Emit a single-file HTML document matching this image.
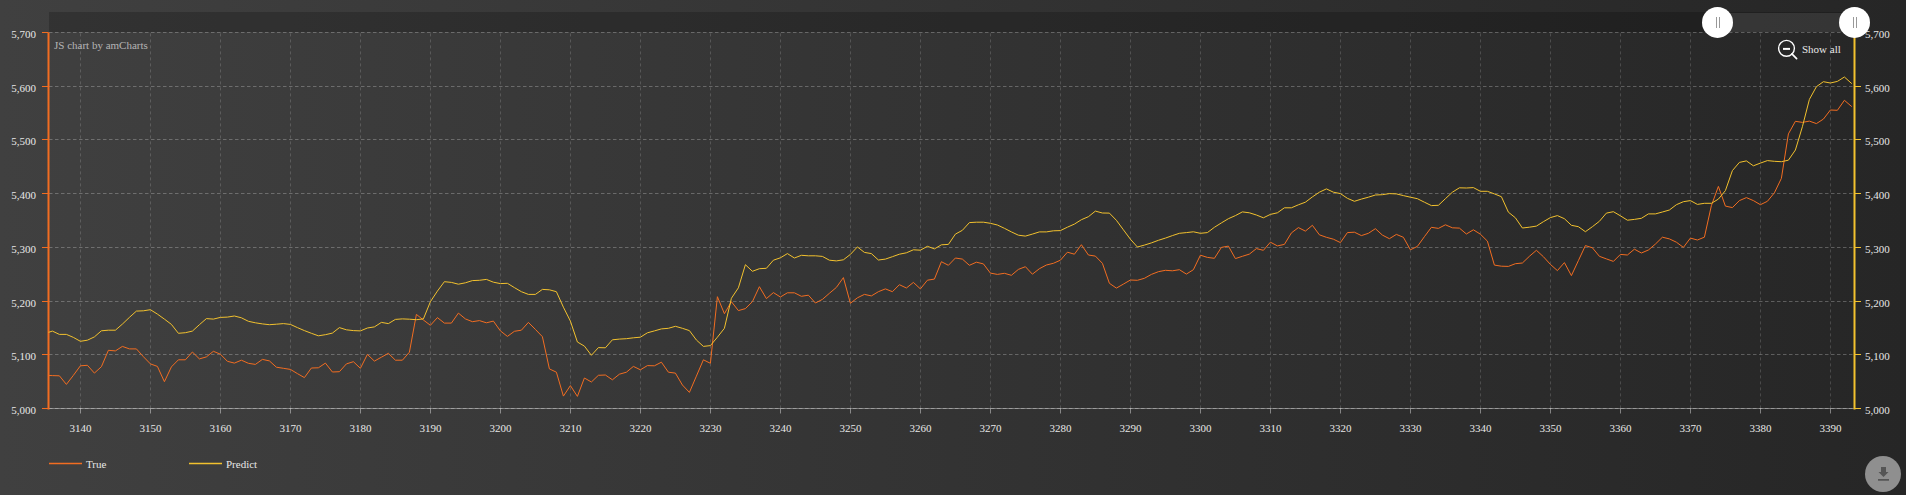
<!DOCTYPE html>
<html><head><meta charset="utf-8"><style>
html,body{margin:0;padding:0;width:1906px;height:495px;overflow:hidden;background:#2f2f2f}
svg{display:block}
text{font-family:"Liberation Serif",serif;font-size:11px;fill:#e7e7e7}
</style></head><body>
<svg width="1906" height="495" viewBox="0 0 1906 495">
<defs>
<linearGradient id="bg" x1="0" y1="0" x2="1" y2="0">
<stop offset="0" stop-color="#404040"/><stop offset="1" stop-color="#262626"/>
</linearGradient>
<clipPath id="plot"><rect x="48.5" y="32" width="1803.5" height="377"/></clipPath>
</defs>
<rect x="0" y="0" width="1906" height="495" fill="url(#bg)"/>

<rect x="49" y="12" width="1805.5" height="20" fill="#000" fill-opacity="0.2"/>
<rect x="1717.5" y="13" width="137" height="19" fill="#fff" fill-opacity="0.1"/>
<path d="M49 408.5H1854.5 M49 354.5H1854.5 M49 301.5H1854.5 M49 247.5H1854.5 M49 193.5H1854.5 M49 139.5H1854.5 M49 86.5H1854.5 M49 32.5H1854.5" stroke="#fff" stroke-opacity="0.25" stroke-width="1" stroke-dasharray="3.5 2.5" fill="none"/>
<path d="M80.5 408.4V32.5 M150.5 408.4V32.5 M220.5 408.4V32.5 M290.5 408.4V32.5 M360.5 408.4V32.5 M430.5 408.4V32.5 M500.5 408.4V32.5 M570.5 408.4V32.5 M640.5 408.4V32.5 M710.5 408.4V32.5 M780.5 408.4V32.5 M850.5 408.4V32.5 M920.5 408.4V32.5 M990.5 408.4V32.5 M1060.5 408.4V32.5 M1130.5 408.4V32.5 M1200.5 408.4V32.5 M1270.5 408.4V32.5 M1340.5 408.4V32.5 M1410.5 408.4V32.5 M1480.5 408.4V32.5 M1550.5 408.4V32.5 M1620.5 408.4V32.5 M1690.5 408.4V32.5 M1760.5 408.4V32.5 M1830.5 408.4V32.5" stroke="#fff" stroke-opacity="0.16" stroke-width="1" stroke-dasharray="3 3" fill="none"/>
<path d="M48.5 408.5H1854.5" stroke="#fff" stroke-opacity="0.36" stroke-width="1"/>
<path d="M80.5 408.5V413.5 M150.5 408.5V413.5 M220.5 408.5V413.5 M290.5 408.5V413.5 M360.5 408.5V413.5 M430.5 408.5V413.5 M500.5 408.5V413.5 M570.5 408.5V413.5 M640.5 408.5V413.5 M710.5 408.5V413.5 M780.5 408.5V413.5 M850.5 408.5V413.5 M920.5 408.5V413.5 M990.5 408.5V413.5 M1060.5 408.5V413.5 M1130.5 408.5V413.5 M1200.5 408.5V413.5 M1270.5 408.5V413.5 M1340.5 408.5V413.5 M1410.5 408.5V413.5 M1480.5 408.5V413.5 M1550.5 408.5V413.5 M1620.5 408.5V413.5 M1690.5 408.5V413.5 M1760.5 408.5V413.5 M1830.5 408.5V413.5" stroke="#fff" stroke-opacity="0.42" stroke-width="1"/>
<text x="80.4" y="432" text-anchor="middle">3140</text>
<text x="150.4" y="432" text-anchor="middle">3150</text>
<text x="220.4" y="432" text-anchor="middle">3160</text>
<text x="290.4" y="432" text-anchor="middle">3170</text>
<text x="360.4" y="432" text-anchor="middle">3180</text>
<text x="430.4" y="432" text-anchor="middle">3190</text>
<text x="500.4" y="432" text-anchor="middle">3200</text>
<text x="570.4" y="432" text-anchor="middle">3210</text>
<text x="640.4" y="432" text-anchor="middle">3220</text>
<text x="710.4" y="432" text-anchor="middle">3230</text>
<text x="780.4" y="432" text-anchor="middle">3240</text>
<text x="850.4" y="432" text-anchor="middle">3250</text>
<text x="920.4" y="432" text-anchor="middle">3260</text>
<text x="990.4" y="432" text-anchor="middle">3270</text>
<text x="1060.4" y="432" text-anchor="middle">3280</text>
<text x="1130.4" y="432" text-anchor="middle">3290</text>
<text x="1200.4" y="432" text-anchor="middle">3300</text>
<text x="1270.4" y="432" text-anchor="middle">3310</text>
<text x="1340.4" y="432" text-anchor="middle">3320</text>
<text x="1410.4" y="432" text-anchor="middle">3330</text>
<text x="1480.4" y="432" text-anchor="middle">3340</text>
<text x="1550.4" y="432" text-anchor="middle">3350</text>
<text x="1620.4" y="432" text-anchor="middle">3360</text>
<text x="1690.4" y="432" text-anchor="middle">3370</text>
<text x="1760.4" y="432" text-anchor="middle">3380</text>
<text x="1830.4" y="432" text-anchor="middle">3390</text>
<path d="M48.5 32.4V409.4" stroke="#f26d21" stroke-width="2"/>
<path d="M42 408.5H48.5 M42 354.5H48.5 M42 301.5H48.5 M42 247.5H48.5 M42 193.5H48.5 M42 139.5H48.5 M42 86.5H48.5 M42 32.5H48.5" stroke="#f26d21" stroke-width="1"/>
<path d="M1854.5 32.4V409.4" stroke="#f2c12e" stroke-width="2"/>
<path d="M1854.5 408.5H1861 M1854.5 354.5H1861 M1854.5 301.5H1861 M1854.5 247.5H1861 M1854.5 193.5H1861 M1854.5 139.5H1861 M1854.5 86.5H1861 M1854.5 32.5H1861" stroke="#f2c12e" stroke-width="1"/>
<text x="36" y="414.0" text-anchor="end">5,000</text>
<text x="1865" y="414.0">5,000</text>
<text x="36" y="360.0" text-anchor="end">5,100</text>
<text x="1865" y="360.0">5,100</text>
<text x="36" y="307.0" text-anchor="end">5,200</text>
<text x="1865" y="307.0">5,200</text>
<text x="36" y="253.0" text-anchor="end">5,300</text>
<text x="1865" y="253.0">5,300</text>
<text x="36" y="199.0" text-anchor="end">5,400</text>
<text x="1865" y="199.0">5,400</text>
<text x="36" y="145.0" text-anchor="end">5,500</text>
<text x="1865" y="145.0">5,500</text>
<text x="36" y="92.0" text-anchor="end">5,600</text>
<text x="1865" y="92.0">5,600</text>
<text x="36" y="38.0" text-anchor="end">5,700</text>
<text x="1865" y="38.0">5,700</text>
<g clip-path="url(#plot)"><path d="M38.4 375.1 L45.4 375.3 L52.4 375.6 L59.4 375.8 L66.4 384.4 L73.4 375.3 L80.4 365.8 L87.4 365.3 L94.4 373.1 L101.4 366.7 L108.4 350.3 L115.4 350.9 L122.4 346.4 L129.4 348.9 L136.4 348.9 L143.4 356.7 L150.4 363.9 L157.4 366.4 L164.4 381.7 L171.4 366.9 L178.4 359.8 L185.4 359.8 L192.4 352.0 L199.4 358.9 L206.4 356.9 L213.4 351.3 L220.4 354.2 L227.4 361.3 L234.4 363.1 L241.4 360.2 L248.4 363.3 L255.4 364.4 L262.4 359.4 L269.4 360.9 L276.4 367.2 L283.4 368.3 L290.4 369.4 L297.4 373.6 L304.4 377.6 L311.4 368.0 L318.4 367.8 L325.4 363.1 L332.4 372.0 L339.4 371.7 L346.4 363.9 L353.4 361.7 L360.4 368.3 L367.4 354.4 L374.4 361.1 L381.4 357.2 L388.4 353.3 L395.4 360.2 L402.4 360.2 L409.4 352.2 L416.4 314.4 L423.4 320.0 L430.4 325.3 L437.4 317.6 L444.4 323.1 L451.4 323.1 L458.4 313.1 L465.4 318.9 L472.4 321.7 L479.4 320.6 L486.4 322.8 L493.4 321.1 L500.4 330.9 L507.4 336.4 L514.4 331.3 L521.4 330.2 L528.4 322.4 L535.4 329.4 L542.4 336.7 L549.4 368.9 L556.4 372.2 L563.4 396.1 L570.4 385.6 L577.4 396.4 L584.4 378.0 L591.4 382.0 L598.4 375.3 L605.4 375.0 L612.4 379.8 L619.4 374.2 L626.4 372.2 L633.4 366.4 L640.4 369.8 L647.4 365.6 L654.4 365.8 L661.4 362.2 L668.4 372.2 L675.4 373.1 L682.4 385.0 L689.4 392.4 L696.4 376.1 L703.4 359.8 L710.4 363.3 L717.4 296.7 L724.4 313.7 L731.4 301.7 L738.4 310.6 L745.4 308.6 L752.4 301.7 L759.4 286.7 L766.4 298.6 L773.4 292.6 L780.4 297.0 L787.4 292.8 L794.4 292.8 L801.4 296.3 L808.4 295.2 L815.4 303.0 L822.4 299.4 L829.4 293.3 L836.4 287.4 L843.4 277.6 L850.4 303.3 L857.4 297.8 L864.4 294.4 L871.4 295.9 L878.4 291.7 L885.4 288.9 L892.4 291.7 L899.4 284.7 L906.4 288.0 L913.4 282.4 L920.4 288.9 L927.4 280.2 L934.4 279.1 L941.4 261.7 L948.4 265.3 L955.4 258.0 L962.4 259.1 L969.4 265.3 L976.4 262.2 L983.4 263.9 L990.4 273.1 L997.4 274.4 L1004.4 273.3 L1011.4 275.3 L1018.4 269.4 L1025.4 266.7 L1032.4 274.2 L1039.4 268.7 L1046.4 265.0 L1053.4 263.3 L1060.4 260.2 L1067.4 252.2 L1074.4 254.2 L1081.4 244.7 L1088.4 255.0 L1095.4 256.1 L1102.4 263.3 L1109.4 283.3 L1116.4 288.1 L1123.4 284.1 L1130.4 280.0 L1137.4 280.3 L1144.4 278.3 L1151.4 274.4 L1158.4 271.7 L1165.4 270.3 L1172.4 270.8 L1179.4 269.7 L1186.4 274.1 L1193.4 269.7 L1200.4 255.2 L1207.4 257.4 L1214.4 258.3 L1221.4 247.4 L1228.4 246.1 L1235.4 258.6 L1242.4 256.3 L1249.4 254.1 L1256.4 248.6 L1263.4 250.3 L1270.4 242.2 L1277.4 245.9 L1284.4 244.4 L1291.4 232.9 L1298.4 227.6 L1305.4 231.1 L1312.4 225.3 L1319.4 234.8 L1326.4 237.3 L1333.4 239.2 L1340.4 242.6 L1347.4 232.6 L1354.4 232.2 L1361.4 235.6 L1368.4 233.3 L1375.4 228.7 L1382.4 235.1 L1389.4 238.7 L1396.4 234.4 L1403.4 237.3 L1410.4 249.8 L1417.4 246.4 L1424.4 236.7 L1431.4 227.3 L1438.4 228.4 L1445.4 224.8 L1452.4 227.8 L1459.4 228.1 L1466.4 234.0 L1473.4 229.8 L1480.4 234.2 L1487.4 241.1 L1494.4 265.1 L1501.4 266.2 L1508.4 266.4 L1515.4 263.7 L1522.4 263.0 L1529.4 256.3 L1536.4 250.3 L1543.4 256.7 L1550.4 264.4 L1557.4 270.6 L1564.4 262.6 L1571.4 275.6 L1578.4 260.6 L1585.4 245.6 L1592.4 247.8 L1599.4 256.3 L1606.4 258.9 L1613.4 261.4 L1620.4 254.4 L1627.4 255.0 L1634.4 249.2 L1641.4 253.0 L1648.4 250.0 L1655.4 244.1 L1662.4 237.2 L1669.4 238.9 L1676.4 242.2 L1683.4 247.4 L1690.4 238.1 L1697.4 240.0 L1704.4 237.2 L1711.4 205.6 L1718.4 186.4 L1725.4 206.1 L1732.4 207.6 L1739.4 200.6 L1746.4 197.6 L1753.4 200.6 L1760.4 204.7 L1767.4 201.3 L1774.4 192.8 L1781.4 178.3 L1788.4 133.9 L1795.4 121.3 L1802.4 122.4 L1809.4 121.1 L1816.4 123.6 L1823.4 119.1 L1830.4 110.0 L1837.4 110.3 L1844.4 100.3 L1851.4 106.3 L1858.4 112.3" stroke="#f26d21" stroke-width="1" fill="none" stroke-linejoin="round"/>
<path d="M38.4 335.6 L45.4 333.3 L52.4 331.1 L59.4 334.4 L66.4 334.4 L73.4 337.4 L80.4 341.3 L87.4 340.2 L94.4 336.9 L101.4 330.8 L108.4 330.2 L115.4 330.2 L122.4 324.1 L129.4 317.4 L136.4 311.1 L143.4 310.8 L150.4 309.7 L157.4 314.1 L164.4 319.1 L171.4 324.4 L178.4 333.3 L185.4 332.7 L192.4 331.1 L199.4 324.7 L206.4 318.6 L213.4 319.1 L220.4 317.4 L227.4 317.1 L234.4 316.0 L241.4 317.8 L248.4 321.3 L255.4 322.8 L262.4 323.9 L269.4 324.7 L276.4 324.2 L283.4 323.6 L290.4 324.4 L297.4 327.6 L304.4 330.6 L311.4 333.3 L318.4 335.8 L325.4 334.7 L332.4 333.1 L339.4 327.6 L346.4 329.8 L353.4 330.6 L360.4 330.9 L367.4 328.0 L374.4 326.9 L381.4 322.4 L388.4 323.6 L395.4 319.4 L402.4 318.9 L409.4 319.2 L416.4 319.7 L423.4 318.9 L430.4 301.7 L437.4 291.1 L444.4 281.7 L451.4 282.4 L458.4 284.2 L465.4 282.8 L472.4 280.6 L479.4 280.3 L486.4 279.4 L493.4 282.2 L500.4 283.6 L507.4 283.3 L514.4 287.6 L521.4 291.7 L528.4 294.4 L535.4 294.4 L542.4 289.4 L549.4 289.8 L556.4 291.7 L563.4 307.2 L570.4 321.1 L577.4 342.0 L584.4 346.1 L591.4 355.3 L598.4 347.6 L605.4 347.8 L612.4 339.8 L619.4 339.1 L626.4 338.7 L633.4 337.8 L640.4 337.2 L647.4 332.8 L654.4 330.9 L661.4 328.9 L668.4 328.3 L675.4 326.3 L682.4 328.3 L689.4 330.6 L696.4 340.0 L703.4 346.4 L710.4 345.6 L717.4 337.2 L724.4 328.3 L731.4 298.3 L738.4 287.8 L745.4 264.7 L752.4 271.3 L759.4 268.7 L766.4 268.3 L773.4 260.2 L780.4 257.8 L787.4 253.6 L794.4 258.0 L801.4 255.3 L808.4 255.8 L815.4 255.8 L822.4 256.4 L829.4 260.2 L836.4 260.9 L843.4 259.8 L850.4 254.4 L857.4 246.9 L864.4 252.4 L871.4 253.6 L878.4 260.0 L885.4 259.1 L892.4 256.7 L899.4 254.2 L906.4 252.8 L913.4 249.8 L920.4 250.2 L927.4 246.3 L934.4 248.9 L941.4 244.8 L948.4 244.4 L955.4 234.1 L962.4 230.3 L969.4 222.6 L976.4 222.2 L983.4 222.2 L990.4 223.3 L997.4 225.0 L1004.4 228.3 L1011.4 231.9 L1018.4 235.2 L1025.4 236.1 L1032.4 234.1 L1039.4 231.9 L1046.4 231.9 L1053.4 230.8 L1060.4 230.6 L1067.4 227.2 L1074.4 224.1 L1081.4 219.7 L1088.4 216.7 L1095.4 211.1 L1102.4 213.0 L1109.4 213.1 L1116.4 220.3 L1123.4 229.8 L1130.4 239.2 L1137.4 247.0 L1144.4 245.1 L1151.4 242.9 L1158.4 240.3 L1165.4 238.1 L1172.4 235.6 L1179.4 233.3 L1186.4 232.6 L1193.4 231.8 L1200.4 233.3 L1207.4 232.6 L1214.4 227.3 L1221.4 222.9 L1228.4 218.7 L1235.4 215.6 L1242.4 211.9 L1249.4 212.8 L1256.4 215.0 L1263.4 217.8 L1270.4 214.4 L1277.4 212.8 L1284.4 207.8 L1291.4 207.8 L1298.4 204.8 L1305.4 202.2 L1312.4 196.9 L1319.4 192.2 L1326.4 188.9 L1333.4 192.2 L1340.4 193.6 L1347.4 198.3 L1354.4 201.3 L1361.4 199.1 L1368.4 197.2 L1375.4 195.0 L1382.4 194.7 L1389.4 193.6 L1396.4 193.9 L1403.4 195.6 L1410.4 197.2 L1417.4 198.7 L1424.4 202.2 L1431.4 205.6 L1438.4 205.3 L1445.4 198.7 L1452.4 192.2 L1459.4 187.8 L1466.4 188.0 L1473.4 187.6 L1480.4 191.3 L1487.4 191.3 L1494.4 193.9 L1501.4 196.7 L1508.4 212.2 L1515.4 217.8 L1522.4 228.0 L1529.4 227.2 L1536.4 226.1 L1543.4 221.7 L1550.4 217.6 L1557.4 215.6 L1564.4 218.7 L1571.4 225.3 L1578.4 226.7 L1585.4 231.7 L1592.4 226.7 L1599.4 221.3 L1606.4 213.1 L1613.4 211.7 L1620.4 215.8 L1627.4 220.2 L1634.4 219.4 L1641.4 218.3 L1648.4 213.9 L1655.4 213.9 L1662.4 212.0 L1669.4 210.0 L1676.4 204.7 L1683.4 201.7 L1690.4 200.6 L1697.4 204.4 L1704.4 203.3 L1711.4 203.3 L1718.4 199.1 L1725.4 190.6 L1732.4 170.6 L1739.4 162.4 L1746.4 160.9 L1753.4 165.8 L1760.4 163.1 L1767.4 160.6 L1774.4 161.3 L1781.4 161.7 L1788.4 160.2 L1795.4 150.0 L1802.4 126.7 L1809.4 99.4 L1816.4 86.7 L1823.4 81.7 L1830.4 83.0 L1837.4 81.4 L1844.4 77.0 L1851.4 83.3 L1858.4 89.7" stroke="#f2c12e" stroke-width="1" fill="none" stroke-linejoin="round"/></g>
<text x="54" y="48.5" fill-opacity="0.7">JS chart by amCharts</text>
<g fill="none" stroke="#fff"><circle cx="1786.5" cy="48.3" r="7.9" stroke-width="1.4"/><path d="M1791.9 53.9L1796.6 58.6" stroke-width="1.7" stroke-linecap="round"/><path d="M1783 48.9H1790" stroke-width="2"/></g>
<text x="1802" y="53">Show all</text>
<circle cx="1717.5" cy="22.4" r="15.5" fill="#fff"/><path d="M1716.5 17V28M1719.5 17V28" stroke="#999" stroke-width="1"/>
<circle cx="1854.5" cy="22.4" r="15.5" fill="#fff"/><path d="M1853.5 17V28M1856.5 17V28" stroke="#999" stroke-width="1"/>
<path d="M49 463.5H82" stroke="#f26d21" stroke-width="1.3"/><text x="86" y="468">True</text>
<path d="M189 463.5H222" stroke="#f2c12e" stroke-width="1.3"/><text x="226" y="468">Predict</text>
<circle cx="1883" cy="474" r="18" fill="#8f8f8f"/><path d="M1881 467h5v5h2.5l-5 5l-5-5h2.5z M1878 479h11v1.7h-11z" fill="#555"/>
</svg></body></html>
